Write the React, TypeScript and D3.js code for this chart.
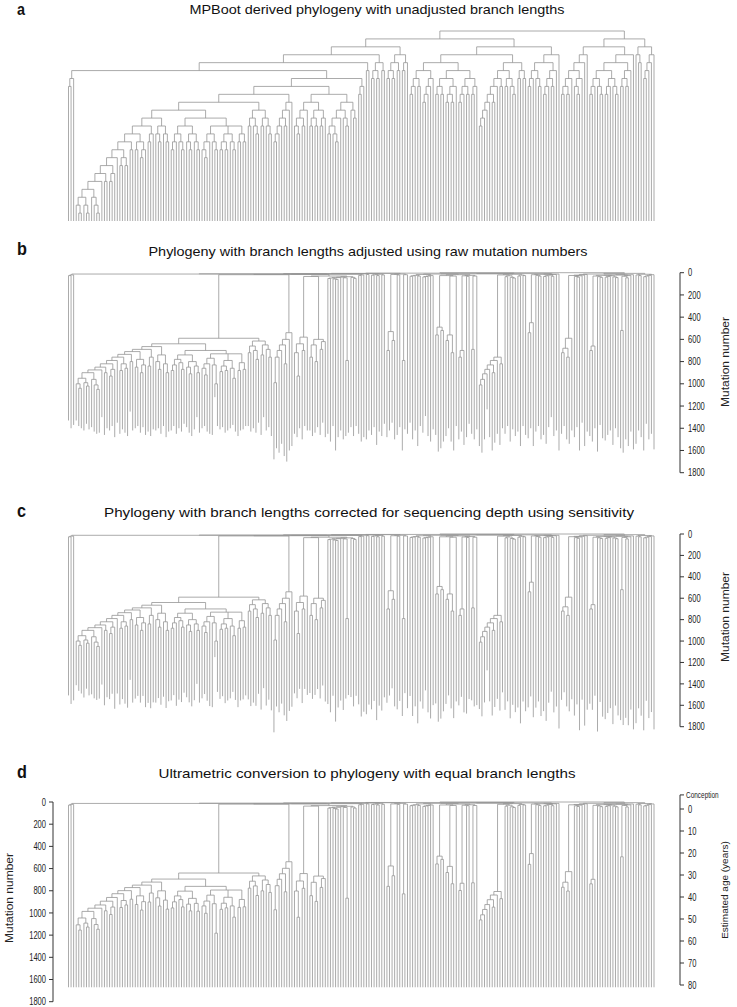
import React, { useMemo } from 'react';
import * as d3 from 'd3';

// Tree data: internal node = [node height (mutations, panel b), ...children]; leaf = tip depth (mutations, panel b)
type T = number | T[];

// leftmost small clade
const C0: T = [20, [26, 1330, 1400], 1370];

// large expanded clade (left)
const N13: T = [1000, 1330, [1040, 1380, 1400]];
const N11: T = [950, N13, [990, 1420, [1020, 1360, 1410]]];
const N9: T = [900, N11, [960, 1390, [1010, 1430, [1050, 1450, 1440]]]];
const N8: T = [875, N9, 1300];
const N7: T = [850, N8, [900, 1460, 1400]];
const N6: T = [820, N7, [870, [930, 1420, 1380], 1480]];
const N5: T = [790, N6, 1350];
const N4: T = [760, N5, [820, [880, 1450, 1410], [860, 1440, 1470]]];
const N3: T = [735, N4, [800, 1250, 1420]];
const N2: T = [710, N3, [780, [850, 1400, 1380], [830, [900, 1440, 1390], 1460]]];
const N1: T = [690, N2, [760, [840, 1430, 1470], 1410]];
const BLA: T = [665, N1, [740, [800, 1420, [870, 1400, 1450]], [820, 1380, [900, 1480, 1430]]]];
const BLB: T = [700,
  [740,
    [780, [830, [880, 1420, 1380], 1450], [810, 1400, [870, 1430, 1360]]],
    [800, [850, 1390, [910, 1440, 1470]], [840, 1410, [900, 1300, 1440]]]],
  [730,
    [770, [820, [860, 1400, [920, 1380, 1430]], 1450], [830, 1460, [1000, 1120, 1380]]],
    [790, [840, [890, 1410, 1390], [880, 1440, 1420]], [860, 1400, [950, 1370, 1430]]],
    [810, [880, 1470, 1420], [870, 1410, 1380]]]];
const BR: T = [615, [660, [720, 1380, 1430], [700, 1400, [780, 1440, 1350]]], [650, [740, 1460, 1300], [690, 1420, [760, 1390, 1470]]]];
const BIG: T = [590, [640, BLA, BLB], BR];

// clades to the right of the expanded clade
const C1: T = [540, [600, [650, [700, [760, [990, 1680, 1580], 1620], 1540], [820, 1650, 1700]], 1600], 1560];
const C2A: T = [580, [640, [720, 1450, [930, 1480, 1400]], [700, 1500, 1380]], 1420];
const C2B: T = [600, [650, [760, 1420, 1470], [800, 1440, 1390]], [620, [690, 1460, 1350], 1480]];
const Q4R: T = [36, [40, [44, [48, [52, 1450, 1520], [56, 1380, [60, 1600, 1480]]], 1420], [46, 1500, [790, 1470, 1440]]], [42, 1390, [51, 1470, 1380]]];
const Q3: T = [20, [24, 1450, 1520], 1480];
const Q2: T = [16, 1500, 1420];
const Q1: T = [14, [18, [22, 1460, 1390], [26, 1550, 1430]], [20, 1470, 1360]];
const LLR: T = [12, [16, [530, [700, 1480, 1420], [610, 1350, 1500]], [20, 1460, 1390]], [18, [790, 1600, 1410], 1450]];

// middle block
const LRA1P1: T = [16, [24, [28, [32, 1350, 1500], 1420], [30, 1560, 1380]], [26, [30, [34, [38, 1440, 1290], 1470], 1520], 1410]];
const LRA1P2: T = [18,
  [26, [490, [560, 1460, 1610], [520, 1580, 1520]], [30, [560, [610, 1470, 1400], [720, 1520, 1600]], 1380]],
  [24, [28, [700, [760, 1500, 1430], 1550], [32, 1480, 1360]], [30, [690, 1450, 1500], 1410]]];
const CASCADE: T = [760, [790, [830, [870, [910, [960, [1010, 1560, 1620], 1500], 1230], 1480], [900, 1600, 1530]], 1450], [820, 1550, 1400]];
const LRA2: T = [14, [20, CASCADE, [28, [36, 1450, 1380], [42, 1520, [48, 1410, 1470]]]], [22, [30, 1430, 1560], [26, 1380, 1460]]];
const LRB: T = [12, [15, [18, [450, [540, 1490, 1400], 1560], [24, 1430, [30, 1380, 1500]]], [16, [22, [28, [34, 1460, 1540], 1390], [32, 1300, 1470]], 1420]], 1600];

// right block
const RL1: T = [16, [22, [25, [590, [680, [720, 1450, 1380], [760, 1500, 1540]], 1420], [28, [34, 1480, [40, 1390, 1600]], 1350]], 1560], 1430];
const RL2: T = [18, [21, [24, [30, [660, [700, 1470, 1520], 1400], [36, 1610, [42, 1370, 1490]]], [28, [34, [40, 1510, 1460], 1420], [38, 1550, [44, 1400, 1480]]]], [26, [32, [520, 1580, 1620], [46, 1500, 1560]], 1430]], 1590];
const RR: T = [14, [20, 1540, [26, 1420, 1480]], [18, [24, [30, [36, 1600, 1360], 1500], 1450], 1590]];

const TREE: T = [0,
  [4,
    [6,
      [8,
        [10,
          [12, C0,
            [14,
              [16,
                [18, BIG, C1],
                [30, [34, C2A, C2B], Q4R]],
              Q3]],
          Q2],
        Q1],
      LLR],
    [8, [10, [12, LRA1P1, LRA1P2], LRA2], LRB]],
  [6, [12, RL1, RL2], RR]];

// sensitivity per block of consecutive samples (leaf counts / sensitivity)
const SENS_BLOCK_SIZES = [3, 78, 8, 25, 20, 59, 37];
const SENS_VALUES = [0.88, 0.8, 0.95, 0.91, 0.89, 0.88, 0.87];
const ULTRA_DEPTH = 1670;

const MUT_TICKS = [0, 200, 400, 600, 800, 1000, 1200, 1400, 1600, 1800];
const AGE_TICKS = [0, 10, 20, 30, 40, 50, 60, 70, 80];
const CONCEPTION_POS = -6.4;

const TITLES = [
  'MPBoot derived phylogeny with unadjusted branch lengths',
  'Phylogeny with branch lengths adjusted using raw mutation numbers',
  'Phylogeny with branch lengths corrected for sequencing depth using sensitivity',
  'Ultrametric conversion to phylogeny with equal branch lengths',
];
const LETTERS = ['a', 'b', 'c', 'd'];

const STROKE = '#969696';
const AX = '#333';

export default function App() {
  const data = useMemo(() => {
    const root = d3.hierarchy<T>(TREE, (d) => (Array.isArray(d) ? (d.slice(1) as T[]) : null));
    const leaves = root.leaves();
    const N = leaves.length;
    const xs = d3.scaleLinear().domain([0, N - 1]).range([68.5, 654]);
    const X = new Map<any, number>();
    leaves.forEach((l, i) => X.set(l, xs(i)));
    root.eachAfter((n) => {
      if (n.children) {
        X.set(n, (X.get(n.children[0])! + X.get(n.children[n.children.length - 1])!) / 2);
      }
    });
    const hB = new Map<any, number>();
    root.each((n) => hB.set(n, Array.isArray(n.data) ? (n.data[0] as number) : (n.data as number)));
    const sens = new Map<any, number>();
    let k = 0;
    SENS_BLOCK_SIZES.forEach((sz, bi) => {
      for (let j = 0; j < sz; j++) {
        if (leaves[k]) sens.set(leaves[k], SENS_VALUES[bi]);
        k++;
      }
    });
    const hC = new Map<any, number>();
    root.each((n) => {
      if (n.children || !n.parent) hC.set(n, hB.get(n)!);
      else {
        const p = hB.get(n.parent)!;
        hC.set(n, p + (hB.get(n)! - p) / (sens.get(n) ?? 1));
      }
    });
    const meanTip = new Map<any, number>();
    root.each((n) => {
      meanTip.set(n, d3.mean(n.leaves(), (l) => hC.get(l)! - hC.get(n)!) ?? 0);
    });
    const u = new Map<any, number>();
    root.eachBefore((n) => {
      if (!n.parent) { u.set(n, 0); return; }
      const pu = u.get(n.parent)!;
      const e = hC.get(n)! - hC.get(n.parent)!;
      const m = meanTip.get(n)!;
      const ratio = e + m > 0 ? e / (e + m) : 1;
      u.set(n, pu + (1 - pu) * ratio);
    });
    const hD = new Map<any, number>();
    root.each((n) => hD.set(n, u.get(n)! * ULTRA_DEPTH));
    let maxDepth = 0;
    root.each((n) => { if (n.children) maxDepth = Math.max(maxDepth, n.depth); });
    return { root, X, hB, hC, hD, tipLevel: maxDepth + 1 };
  }, []);

  const { root, X, hB, hC, hD, tipLevel } = data;

  const pathFor = (yOf: (n: d3.HierarchyNode<T>) => number) => {
    const p = d3.path();
    root.each((n) => {
      if (!n.children) return;
      const y0 = yOf(n);
      const cx = n.children.map((c) => X.get(c)!);
      p.moveTo(d3.min(cx)!, y0);
      p.lineTo(d3.max(cx)!, y0);
      n.children.forEach((c) => {
        const x = X.get(c)!;
        p.moveTo(x, y0);
        p.lineTo(x, yOf(c));
      });
    });
    return p.toString();
  };

  const yA = d3.scaleLinear().domain([0, tipLevel]).range([31, 221]);
  const yB = d3.scaleLinear().domain([0, 1800]).range([272.7, 472.7]);
  const yC = d3.scaleLinear().domain([0, 1800]).range([534, 726.7]);
  const yD = d3.scaleLinear().domain([0, 1800]).range([802, 1001.7]);
  const yAge = d3.scaleLinear().domain([0, 80]).range([809, 985]);

  const pathA = pathFor((n) => (n.children ? yA(n.depth) : yA(tipLevel)));
  const pathB = pathFor((n) => yB(hB.get(n)!));
  const pathC = pathFor((n) => yC(hC.get(n)!));
  const pathD = pathFor((n) => yD(hD.get(n)!));

  const font = 'Liberation Sans, Arial, Helvetica, sans-serif';
  const titleSpecs = [
    { y: 14, cx: 377, w: 375 },
    { y: 256, cx: 368, w: 439 },
    { y: 517, cx: 369, w: 530 },
    { y: 778, cx: 367, w: 417 },
  ];
  const letterY = [15, 255, 517, 778];

  const rightAxis = (y: d3.ScaleLinear<number, number>, key: string, labelY: number) => (
    <g key={key}>
      <line x1={680} x2={680} y1={y(0)} y2={y(1800)} stroke={AX} strokeWidth={1} />
      {MUT_TICKS.map((t) => (
        <g key={t}>
          <line x1={680} x2={684} y1={y(t)} y2={y(t)} stroke={AX} strokeWidth={1} />
          <text transform={`translate(688,${y(t)}) scale(0.72,1)`} dy="0.35em" fontSize={10.5} fontFamily={font} fill="#222">{t}</text>
        </g>
      ))}
      <text transform={`translate(729,${labelY}) scale(0.85,1) rotate(-90)`} textAnchor="middle" fontSize={12} fontFamily={font} fill="#222">Mutation number</text>
    </g>
  );

  return (
    <svg width={737} height={1007} style={{ position: 'absolute', left: 0, top: 0, background: '#fff' }}>
      <rect x={0} y={0} width={737} height={1007} fill="#fff" />
      {TITLES.map((t, i) => (
        <text key={'t' + i} x={titleSpecs[i].cx} y={titleSpecs[i].y} textAnchor="middle" fontSize={13.5} fontFamily={font} fill="#111" textLength={titleSpecs[i].w} lengthAdjust="spacingAndGlyphs">{t}</text>
      ))}
      {LETTERS.map((l, i) => (
        <text key={'l' + i} transform={`translate(17,${letterY[i]}) scale(0.9,1)`} fontSize={i === 0 ? 16 : 18} fontWeight="bold" fontFamily={font} fill="#111">{l}</text>
      ))}
      <path d={pathA} fill="none" stroke={STROKE} strokeWidth={0.8} />
      <path d={pathB} fill="none" stroke={STROKE} strokeWidth={0.8} />
      <path d={pathC} fill="none" stroke={STROKE} strokeWidth={0.8} />
      <path d={pathD} fill="none" stroke={STROKE} strokeWidth={0.8} />
      {rightAxis(yB, 'axb', 362)}
      {rightAxis(yC, 'axc', 617)}
      <g>
        <line x1={53} x2={53} y1={yD(0)} y2={yD(1800)} stroke={AX} strokeWidth={1} />
        {MUT_TICKS.map((t) => (
          <g key={t}>
            <line x1={49} x2={53} y1={yD(t)} y2={yD(t)} stroke={AX} strokeWidth={1} />
            <text transform={`translate(46,${yD(t)}) scale(0.72,1)`} dy="0.35em" textAnchor="end" fontSize={10.5} fontFamily={font} fill="#222">{t}</text>
          </g>
        ))}
        <text transform={`translate(13,898) scale(0.85,1) rotate(-90)`} textAnchor="middle" fontSize={12} fontFamily={font} fill="#222">Mutation number</text>
      </g>
      <g>
        <line x1={680} x2={680} y1={yAge(CONCEPTION_POS)} y2={yAge(80)} stroke={AX} strokeWidth={1} />
        <line x1={680} x2={684} y1={yAge(CONCEPTION_POS)} y2={yAge(CONCEPTION_POS)} stroke={AX} strokeWidth={1} />
        <text transform={`translate(686,${yAge(CONCEPTION_POS)}) scale(0.68,1)`} dy="0.35em" fontSize={9.5} fontFamily={font} fill="#222">Conception</text>
        {AGE_TICKS.map((t) => (
          <g key={t}>
            <line x1={680} x2={684} y1={yAge(t)} y2={yAge(t)} stroke={AX} strokeWidth={1} />
            <text transform={`translate(688,${yAge(t)}) scale(0.72,1)`} dy="0.35em" fontSize={10.5} fontFamily={font} fill="#222">{t}</text>
          </g>
        ))}
        <text transform={`translate(728,890) scale(0.85,1) rotate(-90)`} textAnchor="middle" fontSize={10} fontFamily={font} fill="#222">Estimated age (years)</text>
      </g>
    </svg>
  );
}
